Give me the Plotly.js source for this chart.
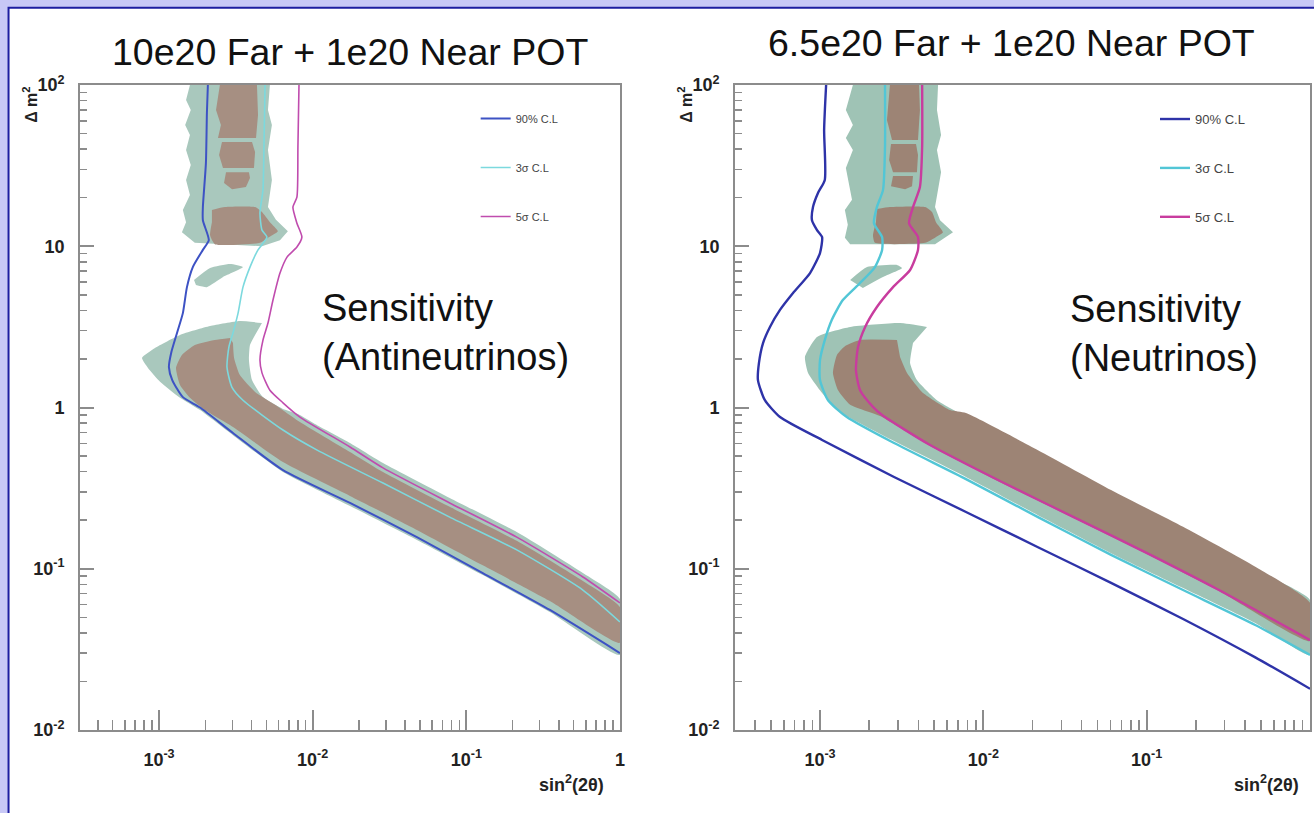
<!DOCTYPE html>
<html>
<head>
<meta charset="utf-8">
<script src="https://cdn.plot.ly/plotly-3.0.1.min.js"></script>
<style>html,body{margin:0;padding:0;background:#c8c8f6;}#chart{width:1314px;height:813px;}</style>
</head>
<body>
<div id="chart"></div>
<script>
// ---------- tick values ----------
const xDecades = [1e-3, 1e-2, 1e-1, 1];
const xDecadeText = ['10<sup>-3</sup>', '10<sup>-2</sup>', '10<sup>-1</sup>', '1'];
const xMinor = [4e-4,5e-4,6e-4,7e-4,8e-4,9e-4, 2e-3,3e-3,4e-3,5e-3,6e-3,7e-3,8e-3,9e-3,
                2e-2,3e-2,4e-2,5e-2,6e-2,7e-2,8e-2,9e-2, 0.2,0.3,0.4,0.5,0.6,0.7,0.8,0.9];
const yDecades = [1e-2, 1e-1, 1, 10, 100];
const yDecadeText = ['10<sup>-2</sup>', '10<sup>-1</sup>', '1', '10', '10<sup>2</sup>'];
const yMinor = [0.02,0.03,0.04,0.05,0.06,0.07,0.08,0.09, 0.2,0.3,0.4,0.5,0.6,0.7,0.8,0.9,
                2,3,4,5,6,7,8,9, 20,30,40,50,60,70,80,90];

// ---------- left panel (antineutrinos): contour lines ----------
const antiBlueX = [2.08e-3,2.05e-3,2.02e-3,1.93e-3,1.93e-3,2.11e-3,1.93e-3,1.66e-3,1.52e-3,1.43e-3,1.31e-3,1.20e-3,1.16e-3,1.22e-3,1.43e-3,1.85e-3,3.03e-3,6.41e-3,0.0175,0.0477,0.128,0.350,1];
const antiBlueY = [100,67,32.8,17.5,14.5,10.9,9.5,7.43,5.58,3.85,2.90,2.18,1.78,1.48,1.16,1.0,0.695,0.409,0.256,0.157,0.094,0.0555,0.030];
const antiCyanX = [4.9e-3,4.82e-3,4.75e-3,4.54e-3,4.68e-3,5.04e-3,4.41e-3,3.91e-3,3.52e-3,3.27e-3,3.03e-3,2.85e-3,2.77e-3,2.98e-3,3.52e-3,6.41e-3,0.0107,0.0287,0.078,0.213,0.574,1];
const antiCyanY = [100,41.3,22.3,16.1,12.6,11.4,9.5,7.43,5.58,3.85,2.90,2.37,1.78,1.34,1.11,0.725,0.544,0.340,0.209,0.131,0.0738,0.0468];
const antiMagX = [8.15e-3,8.02e-3,7.9e-3,7.44e-3,7.9e-3,8.51e-3,7.9e-3,6.81e-3,6.13e-3,5.52e-3,5.12e-3,4.75e-3,4.54e-3,4.68e-3,5.27e-3,6.41e-3,8.26e-3,0.0175,0.0287,0.078,0.213,0.574,1];
const antiMagY = [100,41.3,20.2,17.5,13.9,11.4,9.9,8.57,6.82,4.64,3.34,2.62,1.97,1.64,1.28,1.07,0.873,0.569,0.422,0.256,0.157,0.0889,0.0614];

// left panel: outer (green) band regions
const antiG1X = [1.59e-3,1.50e-3,1.61e-3,1.48e-3,1.59e-3,1.50e-3,1.61e-3,1.50e-3,1.59e-3,1.43e-3,1.50e-3,1.41e-3,1.71e-3,4.68e-3,6.13e-3,6.90e-3,5.77e-3,5.12e-3,5.43e-3,5.12e-3,5.43e-3,5.12e-3,5.27e-3];
const antiG1Y = [100,80.7,70.0,56.5,49.0,39.5,31.9,25.8,20.8,16.8,14.1,12.2,10.5,10.0,10.9,12.4,14.6,17.5,25.8,39.5,56.5,70.0,100];
const antiG2X = [1.69e-3,2.15e-3,2.90e-3,3.52e-3,2.61e-3,2.05e-3,1.74e-3];
const antiG2Y = [6.18,7.33,7.76,7.43,6.44,5.58,5.75];
const antiG3X = [4.68e-3,3.36e-3,2.15e-3,1.37e-3,9.42e-4,7.75e-4,8.48e-4,1.02e-3,1.37e-3,1.85e-3,3.03e-3,6.41e-3,0.0175,0.0477,0.128,0.350,1,1,0.574,0.213,0.078,0.0287,0.0175,0.01035,8.02e-3,6.41e-3,4.75e-3,4.03e-3,3.85e-3,3.91e-3,4.22e-3];
const antiG3Y = [3.34,3.44,3.20,2.82,2.34,2.03,1.76,1.44,1.15,0.964,0.674,0.398,0.245,0.151,0.0914,0.0539,0.0292,0.0649,0.0942,0.169,0.275,0.453,0.603,0.791,0.912,0.979,1.16,1.48,1.97,2.44,2.82];
// left panel: inner (brown) band regions
const antiB1aX = [2.49e-3,2.35e-3,2.53e-3,2.42e-3,4.28e-3,4.41e-3,4.34e-3];
const antiB1aY = [100,70.0,56.5,46.9,46.9,65.2,100];
const antiB1bX = [2.57e-3,2.46e-3,2.61e-3,4.15e-3,4.22e-3,4.03e-3];
const antiB1bY = [44.3,36.8,30.6,30.6,38.4,44.3];
const antiB1cX = [2.73e-3,2.65e-3,2.99e-3,3.68e-3,3.91e-3,3.85e-3];
const antiB1cY = [28.8,24.7,22.6,23.3,26.5,28.8];
const antiB2X = [2.21e-3,2.69e-3,4.22e-3,4.68e-3,5.27e-3,5.94e-3,5.12e-3,4.54e-3,2.31e-3,2.15e-3,2.21e-3];
const antiB2Y = [16.8,17.5,17.5,16.3,14.1,12.4,11.3,10.5,10.3,11.7,14.1];
const antiB3X = [2.90e-3,2.31e-3,1.71e-3,1.41e-3,1.29e-3,1.37e-3,1.59e-3,1.99e-3,3.03e-3,6.41e-3,0.0175,0.0477,0.128,0.350,1,1,0.574,0.213,0.078,0.0287,0.0175,8.26e-3,5.69e-3,4.22e-3,3.36e-3,3.08e-3,3.03e-3];
const antiB3Y = [2.70,2.62,2.44,2.12,1.76,1.38,1.15,0.964,0.757,0.459,0.283,0.174,0.105,0.0631,0.0347,0.0579,0.0840,0.149,0.242,0.398,0.530,0.813,1.04,1.25,1.59,2.03,2.51];

// ---------- right panel (neutrinos): contour lines ----------
const nuBlueX = [1.09e-3,1.06e-3,1.07e-3,9.72e-4,9.06e-4,8.93e-4,9.59e-4,1.03e-3,1.0e-3,8.69e-4,6.84e-4,5.69e-4,4.94e-4,4.48e-4,4.23e-4,4.17e-4,4.60e-4,5.69e-4,1.03e-3,2.84e-3,7.83e-3,0.0216,0.0605,0.167,0.462,1];
const nuBlueY = [100,52.6,25.8,21.4,17.5,14.5,12.6,11.4,9.08,6.82,5.13,4.03,3.16,2.51,1.89,1.48,1.11,0.873,0.629,0.371,0.225,0.136,0.0817,0.0488,0.0282,0.0180];
const nuCyanX = [2.50e-3,2.50e-3,2.43e-3,2.23e-3,2.14e-3,2.40e-3,2.40e-3,2.17e-3,1.76e-3,1.38e-3,1.18e-3,1.07e-3,1.0e-3,1.0e-3,1.12e-3,1.46e-3,2.84e-3,7.83e-3,0.0216,0.0605,0.167,0.462,1];
const nuCyanY = [100,41.3,22.3,17.5,13.9,11.4,9.48,7.43,5.92,4.64,3.49,2.62,1.97,1.48,1.11,0.873,0.602,0.360,0.209,0.122,0.0738,0.0448,0.0292];
const nuMagX = [4.22e-3,4.22e-3,4.09e-3,3.71e-3,3.51e-3,3.98e-3,3.98e-3,3.56e-3,2.80e-3,2.23e-3,1.89e-3,1.71e-3,1.66e-3,1.76e-3,2.11e-3,2.40e-3,4.72e-3,0.0130,0.0365,0.1005,0.277,1];
const nuMagY = [100,41.3,23.3,17.5,13.9,11.4,9.48,7.13,5.58,4.20,3.16,2.37,1.71,1.28,1.01,0.898,0.585,0.345,0.207,0.125,0.0738,0.0361];

// right panel: outer (green) band regions
const nuG1X = [1.59e-3,1.44e-3,1.59e-3,1.44e-3,1.59e-3,1.44e-3,1.57e-3,1.42e-3,1.48e-3,1.42e-3,1.53e-3,5.06e-3,6.52e-3,5.43e-3,5.06e-3,5.51e-3,5.20e-3,5.51e-3,5.20e-3,5.28e-3];
const nuG1Y = [100,70.0,56.5,46.9,39.5,30.6,19.4,16.8,13.6,11.3,10.3,10.3,12.2,14.5,17.5,28.8,39.5,49.0,70.0,100];
const nuG2X = [1.53e-3,1.94e-3,2.96e-3,3.18e-3,2.43e-3,1.83e-3];
const nuG2Y = [6.18,7.43,7.66,7.33,6.44,5.51];
const nuG3X = [4.52e-3,3.09e-3,1.53e-3,9.59e-4,8.09e-4,8.45e-4,1.0e-3,1.27e-3,2.84e-3,7.83e-3,0.0216,0.0605,0.167,0.462,1,1,0.462,0.167,0.0605,0.0216,7.94e-3,5.20e-3,3.92e-3,3.56e-3,3.71e-3];
const nuG3Y = [3.16,3.34,3.16,2.74,2.06,1.64,1.28,0.964,0.619,0.371,0.215,0.125,0.0760,0.0461,0.0292,0.0640,0.0982,0.167,0.279,0.522,0.873,1.11,1.48,1.89,2.51];
// right panel: inner (brown) band regions
const nuB1aX = [2.68e-3,2.57e-3,2.76e-3,3.98e-3,4.09e-3,4.04e-3];
const nuB1aY = [100,60.7,45.6,45.6,70.0,100];
const nuB1bX = [2.72e-3,2.65e-3,2.80e-3,3.92e-3,3.98e-3,3.87e-3];
const nuB1bY = [43.1,34.3,28.8,28.8,36.8,43.1];
const nuB1cX = [2.80e-3,2.72e-3,3.32e-3,3.66e-3,3.71e-3];
const nuB1cY = [27.3,23.6,22.6,23.6,27.3];
const nuB2X = [2.23e-3,2.68e-3,4.40e-3,4.85e-3,5.13e-3,5.66e-3,5.06e-3,4.40e-3,2.17e-3,2.11e-3,2.20e-3];
const nuB2Y = [17.0,17.5,17.5,16.3,14.1,12.2,11.3,10.5,10.5,11.7,14.1];
const nuB3X = [2.96e-3,1.76e-3,1.42e-3,1.27e-3,1.20e-3,1.29e-3,1.53e-3,2.33e-3,4.72e-3,0.0130,0.0365,0.1005,0.277,1,1,0.462,0.167,0.0605,0.0216,7.83e-3,6.25e-3,4.28e-3,3.41e-3,3.09e-3];
const nuB3Y = [2.62,2.62,2.40,2.12,1.64,1.28,1.04,0.885,0.577,0.340,0.204,0.123,0.0727,0.0356,0.0614,0.103,0.182,0.308,0.544,0.924,0.964,1.23,1.64,2.06];

const seriesNames = ['90% C.L', '3\u03c3 C.L', '5\u03c3 C.L'];

// ---------- styles ----------
const FONT = 'Liberation Sans, Arial, Helvetica, sans-serif';
const antiGreen = '#a9c8bd', antiBrown = '#a68f82';
const nuGreen = '#9fc3b5', nuBrown = '#9d8475';
const antiColors = ['#3d52c4', '#7cd9de', '#c04cae'];
const nuColors = ['#2e33a8', '#52c6d6', '#c83c9e'];

function poly(x, y, color, xa, ya, smooth) {
  return {x: x, y: y, type: 'scatter', mode: 'lines', fill: 'toself', fillcolor: color,
    line: {width: 0, color: color, shape: smooth ? 'spline' : 'linear', smoothing: 0.5},
    xaxis: xa, yaxis: ya, showlegend: false, hoverinfo: 'skip'};
}
function curve(x, y, color, width, name, xa, ya, legend) {
  return {x: x, y: y, type: 'scatter', mode: 'lines', name: name,
    line: {color: color, width: width, shape: 'spline', smoothing: 0.6},
    xaxis: xa, yaxis: ya, legend: legend, legendgroup: legend + name, showlegend: true};
}

const traces = [
  poly(antiG1X, antiG1Y, antiGreen, 'x', 'y', false),
  poly(antiG2X, antiG2Y, antiGreen, 'x', 'y', true),
  poly(antiG3X, antiG3Y, antiGreen, 'x', 'y', true),
  poly(antiB1aX, antiB1aY, antiBrown, 'x', 'y', false),
  poly(antiB1bX, antiB1bY, antiBrown, 'x', 'y', false),
  poly(antiB1cX, antiB1cY, antiBrown, 'x', 'y', false),
  poly(antiB2X, antiB2Y, antiBrown, 'x', 'y', true),
  poly(antiB3X, antiB3Y, antiBrown, 'x', 'y', true),
  curve(antiBlueX, antiBlueY, antiColors[0], 2, seriesNames[0], 'x', 'y', 'legend'),
  curve(antiCyanX, antiCyanY, antiColors[1], 1.6, seriesNames[1], 'x', 'y', 'legend'),
  curve(antiMagX, antiMagY, antiColors[2], 1.6, seriesNames[2], 'x', 'y', 'legend'),

  poly(nuG1X, nuG1Y, nuGreen, 'x2', 'y2', false),
  poly(nuG2X, nuG2Y, nuGreen, 'x2', 'y2', true),
  poly(nuG3X, nuG3Y, nuGreen, 'x2', 'y2', true),
  poly(nuB1aX, nuB1aY, nuBrown, 'x2', 'y2', false),
  poly(nuB1bX, nuB1bY, nuBrown, 'x2', 'y2', false),
  poly(nuB1cX, nuB1cY, nuBrown, 'x2', 'y2', false),
  poly(nuB2X, nuB2Y, nuBrown, 'x2', 'y2', true),
  poly(nuB3X, nuB3Y, nuBrown, 'x2', 'y2', true),
  curve(nuBlueX, nuBlueY, nuColors[0], 2.4, seriesNames[0], 'x2', 'y2', 'legend2'),
  curve(nuCyanX, nuCyanY, nuColors[1], 2.4, seriesNames[1], 'x2', 'y2', 'legend2'),
  curve(nuMagX, nuMagY, nuColors[2], 2.4, seriesNames[2], 'x2', 'y2', 'legend2')
];

const axisLine = '#8c8c8c';
function xAxis(domain, range, anchor) {
  return {domain: domain, type: 'log', range: range, anchor: anchor,
    tickmode: 'array', tickvals: xDecades, ticktext: xDecadeText,
    ticks: 'inside', ticklen: 20, tickwidth: 2, tickcolor: axisLine,
    minor: {tickmode: 'array', tickvals: xMinor, ticks: 'inside', ticklen: 10, tickwidth: 1.5, tickcolor: axisLine},
    showline: true, linecolor: axisLine, linewidth: 2, mirror: true,
    showgrid: false, zeroline: false, ticklabelstandoff: 12,
    tickfont: {family: FONT, size: 18, color: '#222', weight: 'bold'}};
}
function yAxis(domain, anchor) {
  return {domain: domain, type: 'log', range: [-2, 2], anchor: anchor,
    tickmode: 'array', tickvals: yDecades, ticktext: yDecadeText,
    ticks: 'inside', ticklen: 14, tickwidth: 2, tickcolor: axisLine,
    minor: {tickmode: 'array', tickvals: yMinor, ticks: 'inside', ticklen: 7, tickwidth: 1.5, tickcolor: axisLine},
    showline: true, linecolor: axisLine, linewidth: 2, mirror: true,
    showgrid: false, zeroline: false, ticklabelstandoff: 10,
    tickfont: {family: FONT, size: 18, color: '#222', weight: 'bold'}};
}

function note(x, y, text, size, extra) {
  const a = {xref: 'paper', yref: 'paper', x: x, y: y, xanchor: 'center', yanchor: 'middle',
    text: text, showarrow: false, font: {family: FONT, size: size, color: '#111'}};
  return Object.assign(a, extra || {});
}

const yDom = [0.1021, 0.8954];
const layout = {
  width: 1314, height: 813,
  margin: {l: 0, r: 0, t: 0, b: 0},
  paper_bgcolor: '#c8c8f6',
  plot_bgcolor: 'rgba(0,0,0,0)',
  xaxis: xAxis([0.0609, 0.4718], [-3.514, 0], 'y'),
  yaxis: yAxis(yDom, 'x'),
  xaxis2: xAxis([0.5594, 0.997], [-3.52, 0], 'y2'),
  yaxis2: yAxis(yDom, 'x2'),
  legend: {x: 0.362, y: 0.872, xanchor: 'left', yanchor: 'top', bgcolor: 'rgba(0,0,0,0)',
    traceorder: 'grouped', tracegroupgap: 30, font: {family: FONT, size: 11, color: '#444'}},
  legend2: {x: 0.879, y: 0.872, xanchor: 'left', yanchor: 'top', bgcolor: 'rgba(0,0,0,0)',
    traceorder: 'grouped', tracegroupgap: 29, font: {family: FONT, size: 13, color: '#444'}},
  shapes: [
    {type: 'rect', xref: 'paper', yref: 'paper', x0: 0.0065, x1: 1.02, y0: -0.02, y1: 0.9904,
      fillcolor: '#ffffff', line: {color: '#1d1da0', width: 2}, layer: 'below'}
  ],
  annotations: [
    note(0.2664, 0.936, '10e20 Far + 1e20 Near POT', 37.5),
    note(0.770, 0.947, '6.5e20 Far + 1e20 Near POT', 37.5),
    note(0.2435, 0.5916, 'Sensitivity<br>(Antineutrinos)', 38, {xanchor: 'left', align: 'left'}),
    note(0.8128, 0.590, 'Sensitivity<br>(Neutrinos)', 38, {xanchor: 'left', align: 'left'}),
    note(0.0228, 0.871, '\u0394 m<sup>2</sup>', 16, {textangle: -90, font: {family: FONT, size: 16, color: '#222', weight: 'bold'}}),
    note(0.5213, 0.871, '\u0394 m<sup>2</sup>', 16, {textangle: -90, font: {family: FONT, size: 16, color: '#222', weight: 'bold'}}),
    note(0.4353, 0.0369, 'sin<sup>2</sup>(2\u03b8)', 18, {font: {family: FONT, size: 18, color: '#222', weight: 'bold'}}),
    note(0.9635, 0.0369, 'sin<sup>2</sup>(2\u03b8)', 18, {font: {family: FONT, size: 18, color: '#222', weight: 'bold'}})
  ]
};

Plotly.newPlot('chart', traces, layout, {displayModeBar: false, staticPlot: true});
</script>
</body>
</html>
